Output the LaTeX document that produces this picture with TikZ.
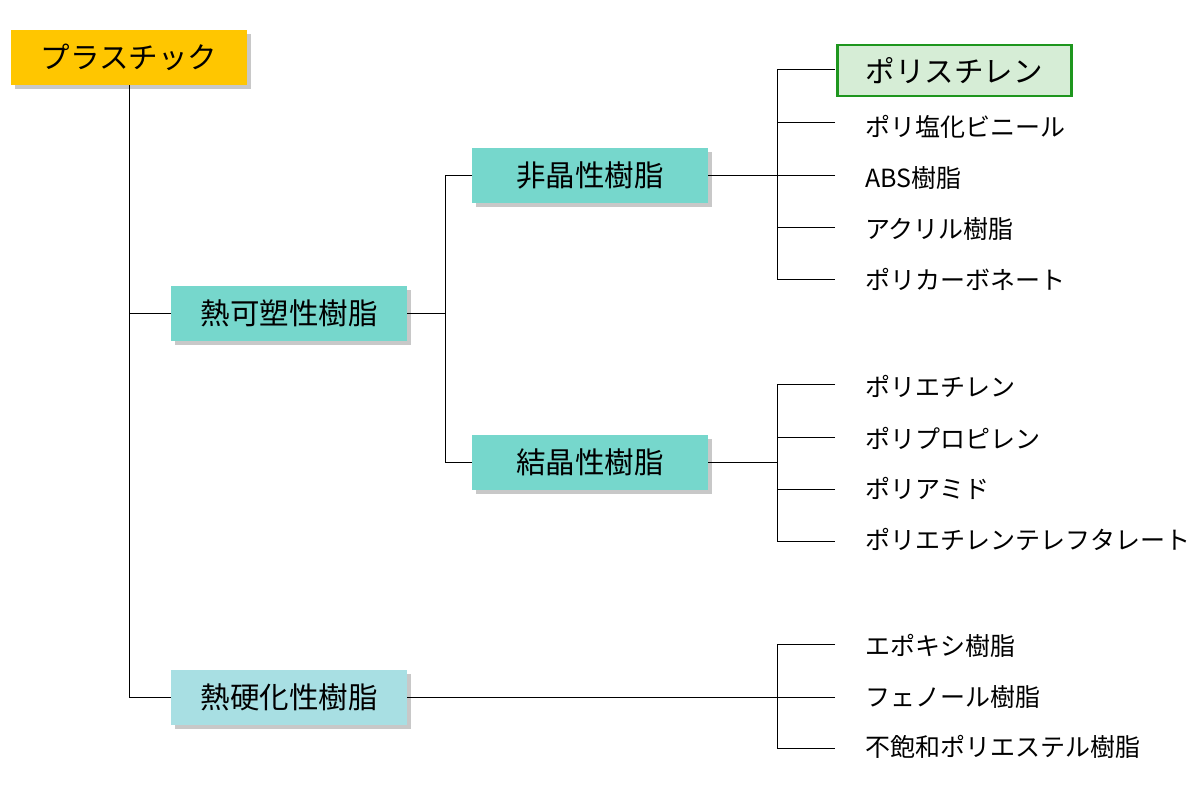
\documentclass[tikz,border=0pt]{standalone}
\usepackage{fontspec}
\setmainfont{Noto Sans CJK JP}
\usetikzlibrary{shadows}
\definecolor{cyel}{HTML}{FFC600}
\definecolor{cteal}{HTML}{76D7CC}
\definecolor{clblue}{HTML}{A8DFE3}
\definecolor{cgfill}{HTML}{D6EDD6}
\definecolor{cgline}{HTML}{1E961E}
\definecolor{cshad}{HTML}{C8C8C8}
\tikzset{
  box/.style={anchor=north west, inner sep=0pt, minimum width=236pt, minimum height=55pt,
    font=\fontsize{29.5}{33}\selectfont,
    general shadow={fill=cshad, shadow xshift=4pt, shadow yshift=-4pt}},
  item/.style={anchor=west, inner sep=0pt, font=\fontsize{25}{29}\selectfont},
  conn/.style={line width=1pt, black},
}
\begin{document}
\begin{tikzpicture}[x=1pt,y=-1pt]
\useasboundingbox (0,0) rectangle (1200,800);
\fill[white] (0,0) rectangle (1200,800);
% boxes
\node[box, fill=cyel] (plastic) at (11,30) {プラスチック};
\node[box, fill=cteal] (thermo) at (171,286) {熱可塑性樹脂};
\node[box, fill=cteal] (amorph) at (472,148) {非晶性樹脂};
\node[box, fill=cteal] (cryst) at (472,435) {結晶性樹脂};
\node[box, fill=clblue] (thset) at (171,670) {熱硬化性樹脂};
% items
\node[anchor=north west, inner sep=0pt, minimum width=234pt, minimum height=51pt,
  fill=cgfill, draw=cgline, line width=2.5pt, font=\fontsize{29.5}{33}\selectfont] (ps) at (836,44) {ポリスチレン};
\node[item] (pvc) at (865,127) {ポリ塩化ビニール};
\node[item] (abs) at (865,178) {ABS樹脂};
\node[item] (acr) at (865,229) {アクリル樹脂};
\node[item] (pc) at (865,279) {ポリカーボネート};
\node[item] (pe) at (865,386) {ポリエチレン};
\node[item] (pp) at (865,438) {ポリプロピレン};
\node[item] (pa) at (865,488) {ポリアミド};
\node[item] (pet) at (865,539) {ポリエチレンテレフタレート};
\node[item] (ep) at (865,646) {エポキシ樹脂};
\node[item] (ph) at (865,697) {フェノール樹脂};
\node[item] (up) at (865,747) {不飽和ポリエステル樹脂};
% line ends
\coordinate (e1) at (835,70);
\coordinate (e2) at (835,122);
\coordinate (e3) at (835,175);
\coordinate (e4) at (835,227);
\coordinate (e5) at (835,279);
\coordinate (f1) at (835,384);
\coordinate (f2) at (835,437);
\coordinate (f3) at (835,489);
\coordinate (f4) at (835,541);
\coordinate (g1) at (835,644);
\coordinate (g2) at (835,697);
\coordinate (g3) at (835,748);
% junctions
\coordinate (j1) at ([xshift=38pt]thermo.east);
\coordinate (ja) at ([xshift=69pt]amorph.east);
\coordinate (jc) at ([xshift=69pt]cryst.east);
\coordinate (js) at (ja |- thset.east);
% connectors
\draw[conn] (plastic.south) |- (thset.west);
\draw[conn] (thermo.west) -- (thermo.west -| plastic.south);
\draw[conn] (thermo.east) -- (j1);
\draw[conn] (amorph.west) -| (j1) |- (cryst.west);
\draw[conn] (amorph.east) -- (ja);
\draw[conn] (e1) -| (ja) |- (e5);
\draw[conn] (e2) -- (e2 -| ja);
\draw[conn] (e3) -- (e3 -| ja);
\draw[conn] (e4) -- (e4 -| ja);
\draw[conn] (cryst.east) -- (jc);
\draw[conn] (f1) -| (jc) |- (f4);
\draw[conn] (f2) -- (f2 -| jc);
\draw[conn] (f3) -- (f3 -| jc);
\draw[conn] (thset.east) -- (js);
\draw[conn] (g1) -| (js) |- (g3);
\draw[conn] (g2) -- (g2 -| js);
\end{tikzpicture}
\end{document}
